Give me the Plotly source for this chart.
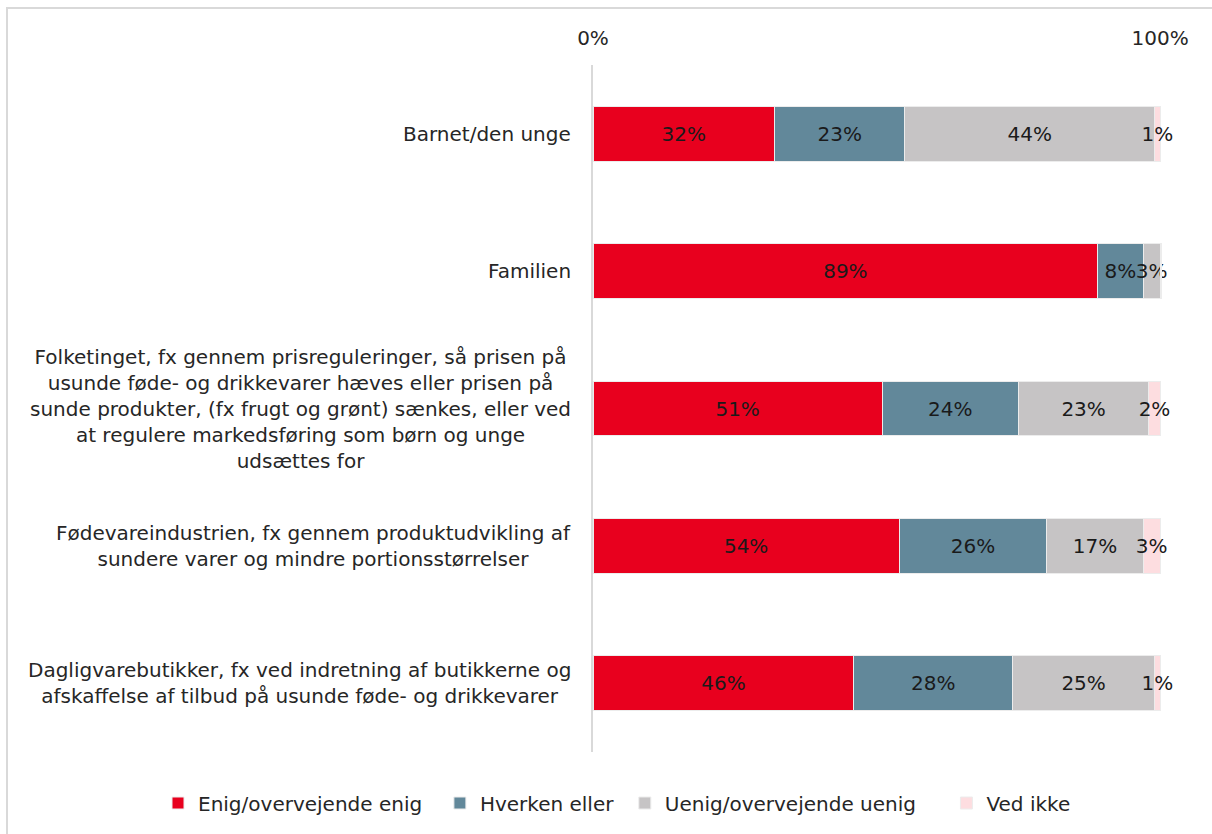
import plotly.graph_objects as go

# Data
categories = [
    "Barnet/den unge",
    "Familien",
    "Folketinget, fx gennem prisreguleringer, så prisen på<br>usunde føde- og drikkevarer hæves eller prisen på<br>sunde produkter, (fx frugt og grønt) sænkes, eller ved<br>at regulere markedsføring som børn og unge<br>udsættes for",
    "Fødevareindustrien, fx gennem produktudvikling af<br>sundere varer og mindre portionsstørrelser",
    "Dagligvarebutikker, fx ved indretning af butikkerne og<br>afskaffelse af tilbud på usunde føde- og drikkevarer",
]
series_names = ["Enig/overvejende enig", "Hverken eller", "Uenig/overvejende uenig", "Ved ikke"]
enig = [32, 89, 51, 54, 46]
hverken = [23, 8, 24, 26, 28]
uenig = [44, 3, 23, 17, 25]
ved_ikke = [1, 0.3, 2, 3, 1]

colors = ["#E8001E", "#62889A", "#C6C4C5", "#FDDDE0"]
FONT = "DejaVu Sans"
FS = 20
pad = [2, 1, 4, 0]  # extra legend spacing (non-breaking spaces) after each name

ypos = list(range(len(categories)))
fig = go.Figure()
for name, vals, col, p in zip(series_names, [enig, hverken, uenig, ved_ikke], colors, pad):
    labels = [f"{round(v)}%" if v >= 0.5 else "" for v in vals]
    fig.add_trace(go.Bar(
        y=ypos, x=vals, name=name + "\u00a0" * p, orientation="h",
        marker=dict(color=col, line=dict(color="#ececec", width=1)),
        text=labels, textposition="inside", insidetextanchor="middle",
        textangle=0, textfont=dict(color="#1a1a1a", size=FS, family=FONT),
        width=0.4, hoverinfo="skip", cliponaxis=False,
    ))

# category labels, centred multi-line like the original
for i, c in enumerate(categories):
    fig.add_annotation(x=0, xref="paper", y=i, yref="y", text=c,
                       showarrow=False, xanchor="right", xshift=-20,
                       align="center", font=dict(size=FS, family=FONT, color="#262626"))

fig.update_layout(
    barmode="stack",
    width=1212, height=834,
    paper_bgcolor="white", plot_bgcolor="white",
    margin=dict(l=593, r=49, t=65, b=82, autoexpand=False),
    uniformtext=dict(mode="show", minsize=FS),
    font=dict(family=FONT, size=FS, color="#262626"),
    legend=dict(orientation="h", x=(158 - 593) / 570, xanchor="left",
                y=-51 / 687, yanchor="middle",
                font=dict(size=FS, family=FONT, color="#262626"), traceorder="normal"),
    shapes=[dict(type="rect", xref="paper", yref="paper",
                 x0=-586 / 570, x1=1.2, y0=-0.2, y1=1 + 57 / 687,
                 line=dict(color="#d9d9d9", width=2), fillcolor="rgba(0,0,0,0)", layer="below")],
)
fig.update_xaxes(range=[0, 100.5], side="top", tickvals=[0, 100], ticktext=["0%", "100%"],
                 showgrid=False, zeroline=False, showline=False,
                 ticklabelstandoff=15, tickfont=dict(size=FS, family=FONT, color="#262626"))
fig.update_yaxes(range=[4.5, -0.5], showticklabels=False, showgrid=False, zeroline=False,
                 showline=True, linecolor="#d9d9d9", linewidth=2)

fig.write_html("out.html", config={"displayModeBar": False},
               post_script="document.body.style.margin='0';")
